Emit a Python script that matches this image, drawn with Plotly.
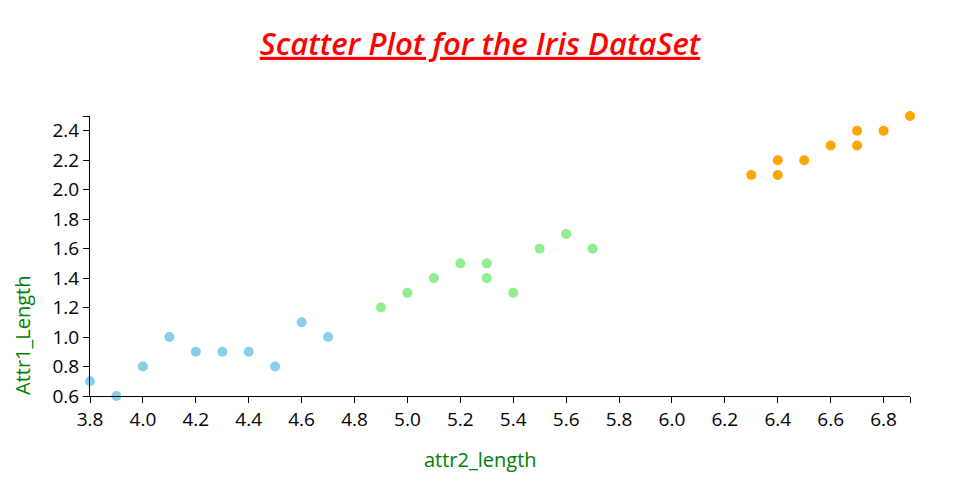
import plotly.graph_objects as go

# Data
setosa_x = [3.8, 3.9, 4.0, 4.1, 4.2, 4.3, 4.4, 4.5, 4.6, 4.7]
setosa_y = [0.7, 0.6, 0.8, 1.0, 0.9, 0.9, 0.9, 0.8, 1.1, 1.0]
versicolor_x = [4.9, 5.0, 5.1, 5.2, 5.3, 5.3, 5.4, 5.5, 5.6, 5.7]
versicolor_y = [1.2, 1.3, 1.4, 1.5, 1.5, 1.4, 1.3, 1.6, 1.7, 1.6]
virginica_x = [6.3, 6.4, 6.4, 6.5, 6.6, 6.7, 6.7, 6.8, 6.9]
virginica_y = [2.1, 2.1, 2.2, 2.2, 2.3, 2.3, 2.4, 2.4, 2.5]

x_ticks = [3.8, 4.0, 4.2, 4.4, 4.6, 4.8, 5.0, 5.2, 5.4, 5.6, 5.8, 6.0, 6.2, 6.4, 6.6, 6.8, 6.9]
x_tick_text = ["3.8", "4.0", "4.2", "4.4", "4.6", "4.8", "5.0", "5.2", "5.4", "5.6", "5.8",
               "6.0", "6.2", "6.4", "6.6", "6.8", ""]
y_ticks = [0.6, 0.8, 1.0, 1.2, 1.4, 1.6, 1.8, 2.0, 2.2, 2.4, 2.5]
y_tick_text = ["0.6", "0.8", "1.0", "1.2", "1.4", "1.6", "1.8", "2.0", "2.2", "2.4", ""]

FONT = "Open Sans"
OFF = 8  # page body margin offset

fig = go.Figure()
for xs, ys, col in [(setosa_x, setosa_y, "#87CEEB"),
                    (versicolor_x, versicolor_y, "#90EE90"),
                    (virginica_x, virginica_y, "#FFA500")]:
    fig.add_trace(go.Scatter(x=xs, y=ys, mode="markers", cliponaxis=False,
                             marker=dict(size=10, color=col, line=dict(width=0)),
                             showlegend=False))

axis_common = dict(showgrid=False, zeroline=False, showline=True, linecolor="black",
                   linewidth=1, ticks="outside", ticklen=6, tickcolor="black",
                   tickwidth=1, tickfont=dict(family=FONT, size=19, color="black"),
                   tickmode="array")

fig.update_xaxes(range=[3.8, 6.9], tickvals=x_ticks, ticktext=x_tick_text, **axis_common)
fig.update_yaxes(range=[0.6, 2.5], tickvals=y_ticks, ticktext=y_tick_text, **axis_common)

fig.update_layout(
    width=960, height=500,
    margin=dict(l=90 - OFF, r=50 + OFF, t=116 - OFF, b=104 + OFF),
    plot_bgcolor="white", paper_bgcolor="white",
    title=dict(text="Scatter Plot for the Iris DataSet", x=(480 - OFF) / 960, xanchor="center",
               y=1 - (44 - OFF) / 500, yanchor="middle",
               font=dict(family=FONT, size=31, color="red", weight=600,
                         style="italic", lineposition="under")),
    annotations=[
        dict(text="attr2_length", xref="paper", yref="paper", x=(480 - 90) / 820,
             y=(396 - 459) / 280, xanchor="center", yanchor="middle",
             showarrow=False, font=dict(family=FONT, size=20, color="green")),
        dict(text="Attr1_Length", xref="paper", yref="paper", x=(22 - 90) / 820,
             y=(396 - 336) / 280, xanchor="center", yanchor="middle", textangle=-90,
             showarrow=False, font=dict(family=FONT, size=20, color="green")),
    ],
)

fig.write_html("out.html")
